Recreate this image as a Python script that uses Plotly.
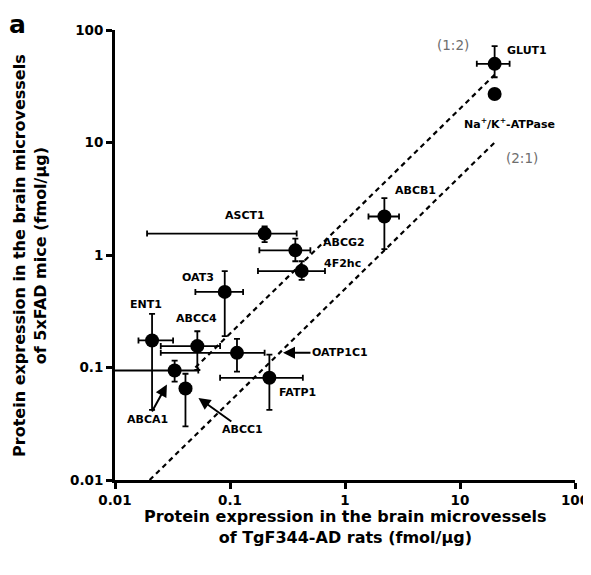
import math
import plotly.graph_objects as go

# ---- data (fmol/µg) ----
proteins = ["GLUT1", "Na/K-ATPase", "ABCB1", "ASCT1", "ABCG2", "4F2hc", "OAT3",
            "ENT1", "ABCC4", "OATP1C1", "FATP1", "ABCA1", "ABCC1"]
rat_x  = [20.0, 20.0, 2.2, 0.20, 0.37, 0.42, 0.090, 0.021, 0.052, 0.115, 0.22, 0.033, 0.041]
rat_lo = [14.0, 18.5, 1.6, 0.019, 0.18, 0.175, 0.050, 0.016, 0.025, 0.025, 0.082, 0.005, 0.037]
rat_hi = [27.0, 21.5, 2.95, 0.38, 0.50, 0.67, 0.130, 0.032, 0.082, 0.200, 0.43, 0.053, 0.046]
mice_y  = [50.0, 27.0, 2.2, 1.55, 1.10, 0.72, 0.47, 0.174, 0.155, 0.135, 0.081, 0.094, 0.065]
mice_lo = [38.0, 25.0, 1.13, 1.30, 0.88, 0.60, 0.19, 0.042, 0.095, 0.092, 0.042, 0.075, 0.030]
mice_hi = [72.0, 29.0, 3.2, 1.80, 1.40, 0.88, 0.72, 0.30, 0.21, 0.18, 0.13, 0.115, 0.088]

ratio_12_x = [0.05, 20.0]   # 1:2 line, y = 2x
ratio_21_x = [0.02, 20.0]   # 2:1 line, y = x/2

tick_vals = [0.01, 0.1, 1, 10, 100]
tick_text = ["0.01", "0.1", "1", "10", "100"]

FONT = "DejaVu Sans, Arial, sans-serif"

fig = go.Figure()

dash = "5px,4px"
fig.add_trace(go.Scatter(x=ratio_12_x, y=[2 * v for v in ratio_12_x], mode="lines",
                         line=dict(color="black", width=2.2, dash=dash),
                         hoverinfo="skip", showlegend=False))
fig.add_trace(go.Scatter(x=ratio_21_x, y=[v / 2 for v in ratio_21_x], mode="lines",
                         line=dict(color="black", width=2.2, dash=dash),
                         hoverinfo="skip", showlegend=False))

fig.add_trace(go.Scatter(
    x=rat_x, y=mice_y, mode="markers", text=proteins, showlegend=False,
    marker=dict(color="black", size=14, line=dict(width=0)),
    error_x=dict(type="data", symmetric=False,
                 array=[h - v for h, v in zip(rat_hi, rat_x)],
                 arrayminus=[v - l for v, l in zip(rat_x, rat_lo)],
                 color="black", thickness=1.8, width=3),
    error_y=dict(type="data", symmetric=False,
                 array=[h - v for h, v in zip(mice_hi, mice_y)],
                 arrayminus=[v - l for v, l in zip(mice_y, mice_lo)],
                 color="black", thickness=1.8, width=3),
))

# label placement (pixel offsets from the point)
label_style = {
    "GLUT1":       dict(text="GLUT1", xshift=10, yshift=13, xanchor="left"),
    "Na/K-ATPase": dict(text="Na<sup>+</sup>/K<sup>+</sup>-ATPase", xshift=15, yshift=-30, xanchor="center"),
    "ABCB1":       dict(text="ABCB1", xshift=31, yshift=26, xanchor="center"),
    "ASCT1":       dict(text="ASCT1", xshift=-20, yshift=18, xanchor="center"),
    "ABCG2":       dict(text="ABCG2", xshift=26, yshift=8, xanchor="left"),
    "4F2hc":       dict(text="4F2hc", xshift=20, yshift=8, xanchor="left"),
    "OAT3":        dict(text="OAT3", xshift=-27, yshift=14, xanchor="center"),
    "ENT1":        dict(text="ENT1", xshift=-6, yshift=36, xanchor="center"),
    "ABCC4":       dict(text="ABCC4", xshift=-1, yshift=28, xanchor="center"),
    "FATP1":       dict(text="FATP1", xshift=28, yshift=-15, xanchor="center"),
}
arrow_style = {
    "OATP1C1": dict(ax=103, ay=0, standoff=46),
    "ABCA1":   dict(ax=-27, ay=49, standoff=16),
    "ABCC1":   dict(ax=57, ay=41, standoff=16),
}

lab_font = dict(family=FONT, size=11, color="black", weight="bold")
for name, xv, yv in zip(proteins, rat_x, mice_y):
    lx, ly = math.log10(xv), math.log10(yv)
    if name in label_style:
        s = label_style[name]
        fig.add_annotation(x=lx, y=ly, xref="x", yref="y", showarrow=False,
                           text=s["text"], xshift=s["xshift"], yshift=s["yshift"],
                           xanchor=s["xanchor"], yanchor="middle", font=lab_font)
    elif name in arrow_style:
        s = arrow_style[name]
        fig.add_annotation(x=lx, y=ly, xref="x", yref="y", text=name,
                           showarrow=True, ax=s["ax"], ay=s["ay"],
                           standoff=s["standoff"], arrowhead=2, arrowsize=1.2,
                           arrowwidth=2, arrowcolor="black", font=lab_font)

# ratio labels
ratio_font = dict(family=FONT, size=13.5, color="#6e6e6e")
fig.add_annotation(x=0.94, y=1.866, xref="x", yref="y", text="(1:2)", showarrow=False, font=ratio_font)
fig.add_annotation(x=1.539, y=0.866, xref="x", yref="y", text="(2:1)", showarrow=False, font=ratio_font)

# axis titles
title_font = dict(family=FONT, size=16, color="black", weight="bold")
fig.add_annotation(x=0.5, y=-0.056, xref="paper", yref="paper", showarrow=False,
                   text="Protein expression in the brain microvessels<br>of TgF344-AD rats (fmol/μg)",
                   font=title_font, xanchor="center", yanchor="top")
fig.add_annotation(x=-0.185, y=0.5, xref="paper", yref="paper", showarrow=False, textangle=-90,
                   text="Protein expression in the brain microvessels<br>of 5xFAD mice (fmol/μg)",
                   font=title_font, xanchor="center", yanchor="middle")

# panel letter
fig.add_annotation(x=-0.234, y=1.049, xref="paper", yref="paper", showarrow=False, text="a",
                   font=dict(family=FONT, size=25, color="black", weight="bold"),
                   xanchor="left", yanchor="top")

axis_common = dict(type="log", range=[-2, 2], tickvals=tick_vals, ticktext=tick_text,
                   showgrid=False, zeroline=False, showline=True, linecolor="black",
                   linewidth=2.8, ticks="outside", ticklen=6, tickwidth=2.5, tickcolor="black",
                   tickfont=dict(family=FONT, size=13.5, color="black", weight="bold"),
                   mirror=False, automargin=False)

# page has an 8px body margin, so the figure is sized/offset to compensate
fig.update_layout(
    width=583, height=559,
    margin=dict(l=107, r=16, t=22, b=87),
    paper_bgcolor="white", plot_bgcolor="white",
    xaxis=axis_common, yaxis=axis_common,
    showlegend=False,
)

fig.write_html("out.html")
